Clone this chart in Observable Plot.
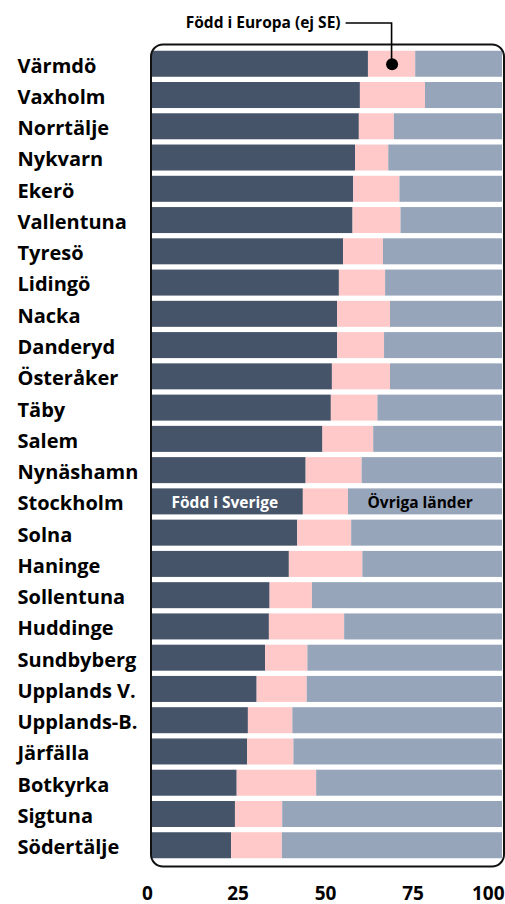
<!DOCTYPE html>
<html>
<head>
<meta charset="utf-8">
<script src="https://cdn.jsdelivr.net/npm/d3@7"></script>
<script src="https://cdn.jsdelivr.net/npm/@observablehq/plot@0.6"></script>
<style>
  html, body { margin: 0; padding: 0; background: #fff; }
  #chart svg { display: block; }
</style>
</head>
<body>
<div id="chart"></div>
<script>
const kommuner = ["Värmdö","Vaxholm","Norrtälje","Nykvarn","Ekerö","Vallentuna","Tyresö","Lidingö","Nacka","Danderyd","Österåker","Täby","Salem","Nynäshamn","Stockholm","Solna","Haninge","Sollentuna","Huddinge","Sundbyberg","Upplands V.","Upplands-B.","Järfälla","Botkyrka","Sigtuna","Södertälje"];
const foddSverige = [61.7,59.4,59.1,58.0,57.5,57.3,54.6,53.4,52.9,52.9,51.4,51.1,48.7,43.9,43.1,41.5,39.1,33.6,33.4,32.3,29.9,27.4,27.2,24.2,23.7,22.6];
const foddEuropa  = [13.5,18.6,10.0,9.5,13.2,13.7,11.4,13.2,15.1,13.4,16.6,13.3,14.5,16.0,12.9,15.4,21.0,12.1,21.5,12.1,14.3,12.7,13.2,22.7,13.5,14.5];
const groups = ["Född i Sverige","Född i Europa (ej SE)","Övriga länder"];
const colors = ["#455469","#ffc9c9","#97a5bb"];
const xTicks = [0,25,50,75,100];

const data = [];
kommuner.forEach((k, i) => {
  data.push({kommun: k, grupp: groups[0], value: foddSverige[i]});
  data.push({kommun: k, grupp: groups[1], value: foddEuropa[i]});
  data.push({kommun: k, grupp: groups[2], value: 100 - foddSverige[i] - foddEuropa[i]});
});

const font = "'Open Sans', 'Noto Sans', sans-serif";
const annotRow = "Stockholm";
const si = kommuner.indexOf(annotRow);
const inlineLabels = [
  {kommun: annotRow, x: 0, text: groups[0], fill: "#fff"},
  {kommun: annotRow, x: foddSverige[si] + foddEuropa[si], text: groups[2], fill: "#000"}
];
const topRow = kommuner[0];
const dotX = foddSverige[0] + foddEuropa[0] / 2;
const tickOpts = {tickSize: 0, tickPadding: 22, fontSize: 19, fontWeight: "bold", fill: "#000", label: null};

const chart = Plot.plot({
  width: 505,
  height: 904,
  marginLeft: 152,
  marginRight: 3,
  marginTop: 45.5,
  marginBottom: 40.5,
  style: {fontFamily: font, fontWeight: "bold", color: "#000", background: "#fff"},
  x: {domain: [0, 100], label: null},
  y: {domain: kommuner, label: null, padding: 0.168, round: false},
  color: {domain: groups, range: colors},
  marks: [
    Plot.barX(data, {y: "kommun", x: "value", fill: "grupp", order: groups}),
    Plot.frame({rx: 12, ry: 12, stroke: "#111", strokeWidth: 2, insetTop: -1.5, insetBottom: -2.5, insetLeft: -1.5, insetRight: -1.5}),
    Plot.axisX(xTicks.filter(t => t === 0), {...tickOpts, dx: -5}),
    Plot.axisX(xTicks.filter(t => t > 0 && t < 100), {...tickOpts, dx: -2}),
    Plot.axisX(xTicks.filter(t => t === 100), {...tickOpts, textAnchor: "end", dx: 2}),
    Plot.axisY({tickSize: 0, tickPadding: 0, textAnchor: "start", dx: -135, dy: 2, fontSize: 20, fontWeight: "bold", fill: "#000", label: null}),
    Plot.text(inlineLabels, {y: "kommun", x: "x", text: "text", fill: "fill", textAnchor: "start", dx: 19, dy: 1, fontSize: 15.5, fontWeight: "bold"}),
    Plot.dot([{kommun: topRow, x: dotX}], {y: "kommun", x: "x", r: 6, fill: "#000"})
  ]
});
document.getElementById("chart").appendChild(chart);

// connector annotation for the European segment, positioned through the plot's scales
const sx = chart.scale("x"), sy = chart.scale("y");
const px = sx.apply(dotX);
const py = sy.apply(topRow) + sy.bandwidth / 2;
const ly = 23;
const svg = d3.select(chart);
svg.append("path")
  .attr("d", `M${px - 46},${ly}H${px}V${py}`)
  .attr("fill", "none").attr("stroke", "#000").attr("stroke-width", 1.6);
svg.append("text")
  .attr("x", px - 51).attr("y", ly).attr("dy", "0.35em")
  .attr("text-anchor", "end")
  .attr("font-family", font).attr("font-weight", "bold").attr("font-size", 15.5)
  .text(groups[1]);
</script>
</body>
</html>
